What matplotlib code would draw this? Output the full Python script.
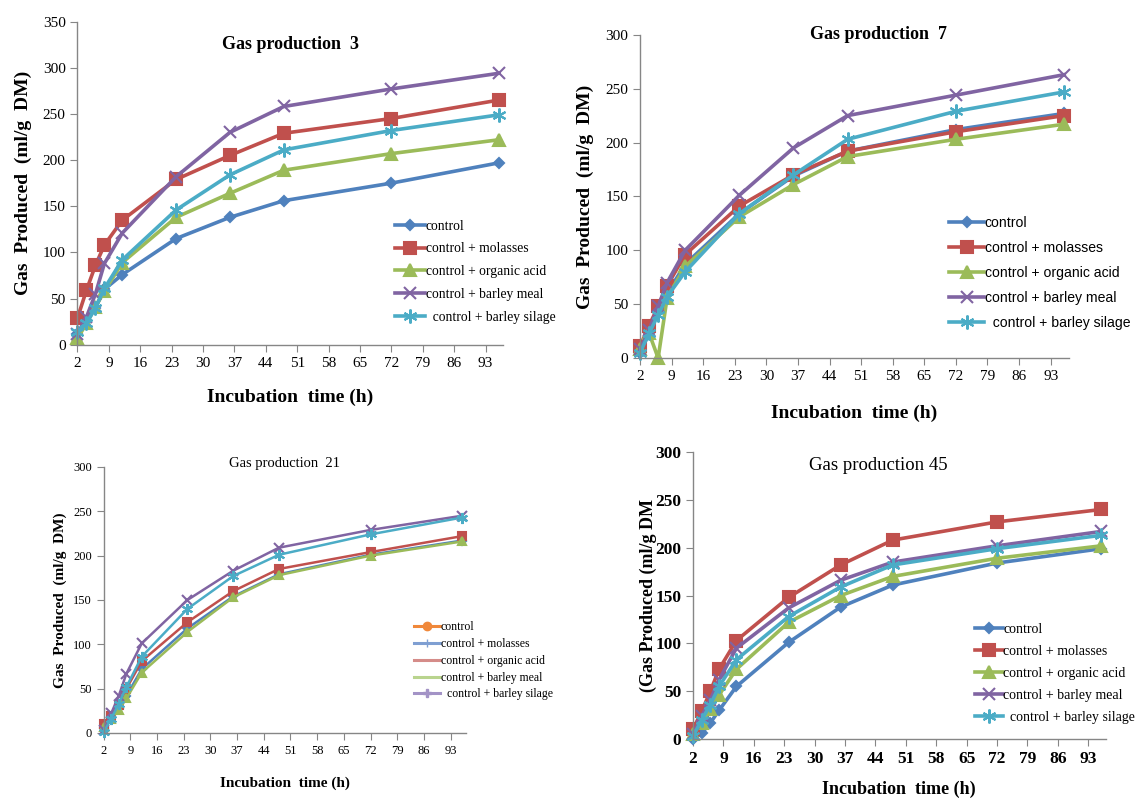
import numpy as np
import matplotlib
matplotlib.use('Agg')
import matplotlib.pyplot as plt
from matplotlib.lines import Line2D

plt.rcParams['font.family'] = ['Liberation Serif', 'DejaVu Serif']

# incubation times (h)
hours = [2, 4, 6, 8, 12, 24, 36, 48, 72, 96]
x_ticks = [2, 9, 16, 23, 30, 37, 44, 51, 58, 65, 72, 79, 86, 93]

labels = ['control', 'control + molasses', 'control + organic acid',
          'control + barley meal', '  control + barley silage']

# Gas production 3
gp3_control = [12, 26, 40, 60, 76, 115, 138, 156, 175, 197]
gp3_molasses = [29, 59, 86, 108, 135, 179, 205, 229, 245, 265]
gp3_organic = [7, 23, 41, 58, 89, 138, 164, 189, 207, 222]
gp3_meal = [12, 30, 55, 88, 121, 182, 230, 258, 277, 294]
gp3_silage = [14, 23, 40, 61, 92, 146, 184, 211, 232, 249]

# Gas production 7
gp7_control = [5, 23, 45, 60, 87, 134, 169, 192, 212, 227]
gp7_molasses = [11, 30, 48, 67, 96, 141, 170, 192, 210, 225]
gp7_organic = [8, 23, 0, 56, 85, 131, 161, 187, 203, 217]
gp7_meal = [8, 26, 48, 70, 100, 151, 195, 225, 244, 263]
gp7_silage = [5, 23, 40, 57, 80, 134, 170, 203, 229, 247]

# Gas production 21
gp21_control = [6, 17, 28, 42, 72, 118, 154, 179, 201, 217]
gp21_molasses = [10, 19, 31, 50, 81, 125, 160, 185, 204, 222]
gp21_organic = [7, 16, 26, 39, 68, 114, 153, 178, 200, 216]
gp21_meal = [3, 22, 42, 67, 101, 150, 183, 209, 229, 245]
gp21_silage = [1, 16, 33, 52, 86, 140, 177, 201, 224, 243]

# Gas production 45
gp45_control = [0, 6, 17, 30, 55, 101, 138, 161, 184, 199]
gp45_molasses = [10, 29, 50, 73, 103, 148, 182, 208, 227, 240]
gp45_organic = [5, 17, 31, 46, 73, 122, 150, 170, 189, 202]
gp45_meal = [5, 24, 41, 62, 95, 137, 166, 185, 202, 217]
gp45_silage = [3, 20, 36, 55, 83, 128, 159, 182, 199, 213]

colors = ['#4F81BD', '#C0504D', '#9BBB59', '#8064A2', '#4BACC6']
markers = ['D', 's', '^', 'x', (6, 2, 0)]
msizes = [5, 8, 8, 9, 10]

fig = plt.figure(figsize=(11.43, 7.98), dpi=100)


def style_axes(ax, ymax, ystep, tick_size, tick_weight='normal'):
    ax.set_xlim(2, 97)
    ax.set_ylim(0, ymax)
    ax.set_xticks(x_ticks)
    ax.set_yticks(np.arange(0, ymax + 1, ystep))
    for s in ['top', 'right']:
        ax.spines[s].set_visible(False)
    for s in ['left', 'bottom']:
        ax.spines[s].set_color('#868686')
        ax.spines[s].set_linewidth(1.0)
    ax.tick_params(axis='both', direction='out', length=5, color='#868686',
                   labelsize=tick_size)
    for t in ax.get_xticklabels() + ax.get_yticklabels():
        t.set_fontweight(tick_weight)


def plot_set(ax, series, lw, ms_scale=1.0):
    for i, ys in enumerate(series):
        ax.plot(hours, ys, color=colors[i], marker=markers[i], lw=lw,
                ms=msizes[i] * ms_scale, mew=1.5, label=labels[i],
                clip_on=False)


def fig_legend(ax, x, y, size, hl, ls, family=None, handles=None):
    prop = {'size': size}
    if family:
        prop['family'] = family
    kw = dict(loc='upper left', bbox_to_anchor=(x, y),
              bbox_transform=fig.transFigure, frameon=False, prop=prop,
              handlelength=hl, handletextpad=0.05, labelspacing=ls,
              borderaxespad=0, borderpad=0)
    if handles is None:
        ax.legend(**kw)
    else:
        ax.legend(handles, labels, **kw)


#1.) Gas production 3
ax1 = fig.add_axes([0.0678, 0.568, 0.3727, 0.405])
plot_set(ax1, [gp3_control, gp3_molasses, gp3_organic, gp3_meal, gp3_silage], 2.6)
style_axes(ax1, 350, 50, 11)
ax1.set_title('Gas production  3', fontsize=13, fontweight='bold', y=0.89)
ax1.set_ylabel('Gas  Produced  (ml/g  DM)', fontsize=14, fontweight='bold', labelpad=8)
ax1.set_xlabel('Incubation  time (h)', fontsize=14, fontweight='bold', labelpad=14)
fig_legend(ax1, 0.3456, 0.7249, 9.8, 2.2, 0.72)

#2.) Gas production 7
ax2 = fig.add_axes([0.56, 0.5514, 0.375, 0.405])
plot_set(ax2, [gp7_control, gp7_molasses, gp7_organic, gp7_meal, gp7_silage], 2.6)
style_axes(ax2, 300, 50, 11)
ax2.set_title('Gas production  7', fontsize=13, fontweight='bold', x=0.557, y=0.96)
ax2.set_ylabel('Gas  Produced  (ml/g  DM)', fontsize=14, fontweight='bold', labelpad=8)
ax2.set_xlabel('Incubation  time (h)', fontsize=14, fontweight='bold', labelpad=16)
fig_legend(ax2, 0.8303, 0.7299, 10.1, 2.5, 0.79, family='Liberation Sans')

#3.) Gas production 21
ax3 = fig.add_axes([0.0906, 0.0815, 0.317, 0.3333])
plot_set(ax3, [gp21_control, gp21_molasses, gp21_organic, gp21_meal, gp21_silage], 1.8, 0.8)
style_axes(ax3, 300, 50, 9)
ax3.set_title('Gas production  21', fontsize=10.5, y=0.97)
ax3.set_ylabel('Gas  Produced  (ml/g  DM)', fontsize=11, fontweight='bold', labelpad=4)
ax3.set_xlabel('Incubation  time (h)', fontsize=11, fontweight='bold', labelpad=14)
legend_colors = ['#F0883A', '#7F9FD2', '#D58C89', '#B9D48E', '#A393C6']
legend_markers = ['o', '+', '', '', 'P']
proxies = [Line2D([], [], color=c, marker=m, lw=2.2, ms=6, mew=1)
           for c, m in zip(legend_colors, legend_markers)]
fig_legend(ax3, 0.3622, 0.2212, 8.5, 2.2, 0.40, handles=proxies)

#4.) Gas production 45
ax4 = fig.add_axes([0.6063, 0.0739, 0.361, 0.3596])
plot_set(ax4, [gp45_control, gp45_molasses, gp45_organic, gp45_meal, gp45_silage], 2.6)
style_axes(ax4, 300, 50, 12.5, 'bold')
ax4.set_title('Gas production 45', fontsize=13.5, x=0.45, y=0.91)
ax4.set_ylabel('(Gas Produced (ml/g DM', fontsize=13, fontweight='bold', labelpad=-1)
ax4.set_xlabel('Incubation  time (h)', fontsize=13, fontweight='bold', labelpad=10)
fig_legend(ax4, 0.853, 0.2199, 10.0, 2.0, 0.65)

plt.savefig('out.png', dpi=100)
